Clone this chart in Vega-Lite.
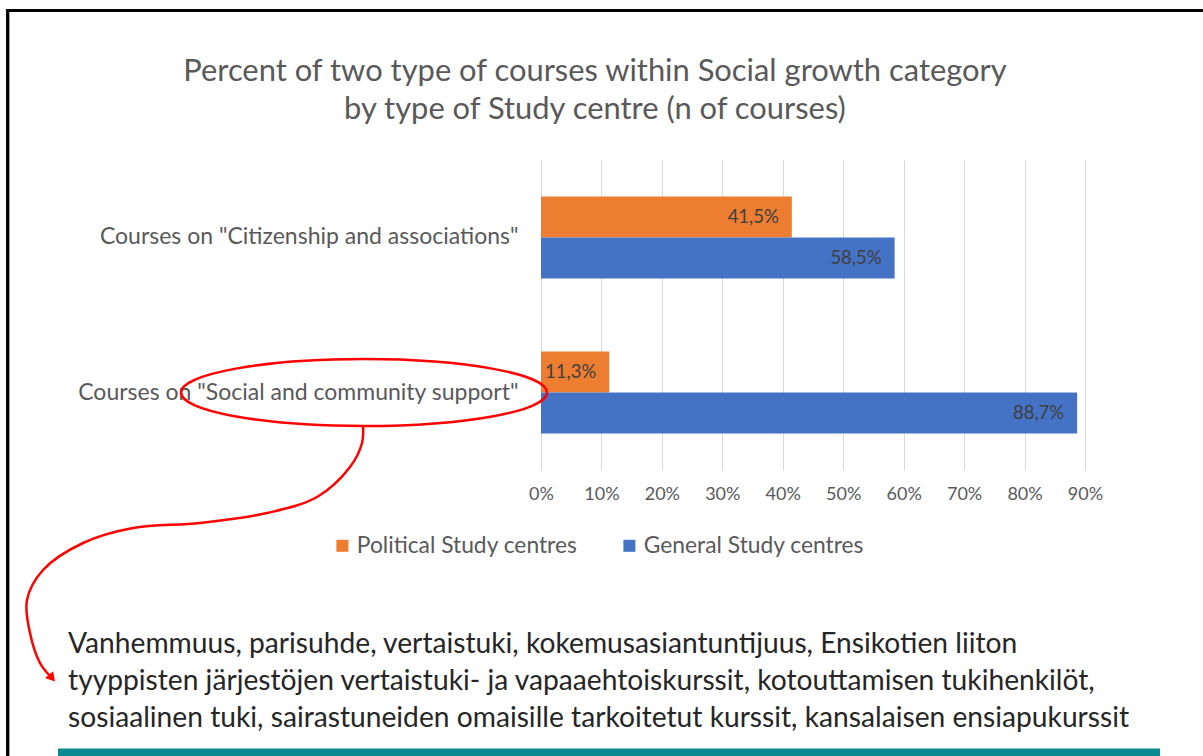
{
  "$schema": "https://vega.github.io/schema/vega-lite/v6.json",
  "width": 544,
  "height": 310,
  "autosize": {"type": "none"},
  "padding": {"left": 541, "top": 160, "right": 118, "bottom": 286},
  "background": "white",
  "config": {
    "view": {"stroke": null},
    "font": "Lato",
    "locale": {"number": {"decimal": ",", "thousands": "\u00a0", "grouping": [3], "currency": ["", " €"]}}
  },
  "datasets": {
    "shares": [
      {"course": "Courses on \"Citizenship and associations\"", "centre": "Political Study centres", "share": 0.415},
      {"course": "Courses on \"Citizenship and associations\"", "centre": "General Study centres", "share": 0.585},
      {"course": "Courses on \"Social and community support\"", "centre": "Political Study centres", "share": 0.113},
      {"course": "Courses on \"Social and community support\"", "centre": "General Study centres", "share": 0.887}
    ],
    "arrow": [
      {"i": 1, "ax": -0.2945, "ay": 45},
      {"i": 2, "ax": -0.2961, "ay": 27},
      {"i": 3, "ax": -0.3160, "ay": 3},
      {"i": 4, "ax": -0.3706, "ay": -27},
      {"i": 5, "ax": -0.4533, "ay": -43},
      {"i": 6, "ax": -0.5642, "ay": -53},
      {"i": 7, "ax": -0.6750, "ay": -58},
      {"i": 8, "ax": -0.7577, "ay": -73},
      {"i": 9, "ax": -0.8239, "ay": -100},
      {"i": 10, "ax": -0.8504, "ay": -130},
      {"i": 11, "ax": -0.8454, "ay": -163},
      {"i": 12, "ax": -0.8289, "ay": -193},
      {"i": 13, "ax": -0.8123, "ay": -206}
    ]
  },
  "layer": [
    {
      "layer": [
        {
          "data": {"name": "shares"},
          "mark": {"type": "bar"},
          "encoding": {
            "x": {
              "field": "share", "type": "quantitative",
              "scale": {"domain": [0, 0.9], "nice": false, "zero": false},
              "axis": {
                "values": [0, 0.1, 0.2, 0.3, 0.4, 0.5, 0.6, 0.7, 0.8, 0.9],
                "format": ".0%", "title": null, "domain": false, "ticks": false,
                "grid": true, "gridColor": "#D9D9D9", "gridWidth": 1,
                "labelColor": "#595959", "labelFontSize": 18, "labelPadding": 15,
                "labelFont": "Lato", "labelFlush": false, "labelOverlap": false
              }
            },
            "y": {
              "field": "course", "type": "nominal",
              "sort": ["Courses on \"Citizenship and associations\"", "Courses on \"Social and community support\""],
              "scale": {"paddingInner": 0.471, "paddingOuter": 0.235},
              "axis": {
                "title": null, "domain": false, "ticks": false, "grid": false,
                "labelColor": "#595959", "labelFontSize": 23, "labelPadding": 23,
                "labelLimit": 700, "labelFont": "Lato"
              }
            },
            "yOffset": {
              "field": "centre", "type": "nominal",
              "sort": ["Political Study centres", "General Study centres"]
            },
            "color": {
              "field": "centre", "type": "nominal",
              "scale": {"domain": ["Political Study centres", "General Study centres"], "range": ["#ED7D31", "#4472C4"]},
              "legend": {
                "title": null, "orient": "none", "direction": "horizontal",
                "legendX": -210, "legendY": 374, "padding": 0,
                "symbolType": "square", "symbolSize": 144, "symbolStrokeWidth": 0,
                "labelFontSize": 22.8, "labelColor": "#595959", "labelFont": "Lato",
                "labelOffset": 3, "columnPadding": 40, "labelLimit": 500
              }
            }
          }
        },
        {
          "data": {"name": "shares"},
          "mark": {"type": "text", "align": "right", "baseline": "middle", "dx": -13, "fontSize": 18.5, "color": "#404040", "font": "Lato"},
          "encoding": {
            "x": {"field": "share", "type": "quantitative", "scale": {"domain": [0, 0.9], "nice": false, "zero": false}},
            "y": {
              "field": "course", "type": "nominal",
              "sort": ["Courses on \"Citizenship and associations\"", "Courses on \"Social and community support\""]
            },
            "yOffset": {
              "field": "centre", "type": "nominal",
              "sort": ["Political Study centres", "General Study centres"]
            },
            "text": {"field": "share", "type": "quantitative", "format": ".1%"}
          }
        },
        {
          "data": {"values": [{"course": "Courses on \"Social and community support\""}]},
          "mark": {
            "type": "point", "filled": false, "stroke": "#FF0000", "strokeWidth": 2.5, "opacity": 1,
            "shape": "M-1,0 C-1,-0.1011 -0.5523,-0.183 0,-0.183 C0.5523,-0.183 1,-0.1011 1,0 C1,0.1011 0.5523,0.183 0,0.183 C-0.5523,0.183 -1,0.1011 -1,0 Z",
            "size": 133956
          },
          "encoding": {
            "x": {"datum": -0.2928, "type": "quantitative", "scale": {"domain": [0, 0.9], "nice": false, "zero": false}},
            "y": {
              "field": "course", "type": "nominal",
              "sort": ["Courses on \"Citizenship and associations\"", "Courses on \"Social and community support\""]
            }
          }
        }
      ]
    },
    {
      "layer": [
        {
          "data": {"name": "arrow"},
          "mark": {"type": "line", "interpolate": "catmull-rom", "stroke": "#FF0000", "strokeWidth": 2.5},
          "encoding": {
            "x": {"field": "ax", "type": "quantitative", "scale": {"domain": [0, 0.9], "nice": false, "zero": false}},
            "y": {"field": "ay", "type": "quantitative", "scale": {"domain": [0, 310], "nice": false, "zero": false}, "axis": null},
            "order": {"field": "i", "type": "quantitative"}
          }
        },
        {
          "data": {"values": [{}]},
          "mark": {"type": "point", "shape": "triangle-up", "filled": true, "fill": "#FF0000", "opacity": 1, "size": 110, "angle": 140},
          "encoding": {
            "x": {"datum": -0.8090, "type": "quantitative", "scale": {"domain": [0, 0.9], "nice": false, "zero": false}},
            "y": {"datum": -208, "type": "quantitative", "scale": {"domain": [0, 310], "nice": false, "zero": false}, "axis": null}
          }
        },
        {
          "data": {"values": [{}]},
          "mark": {"type": "rule", "color": "#000000", "strokeWidth": 3},
          "encoding": {
            "x": {"datum": -0.8851, "type": "quantitative", "scale": {"domain": [0, 0.9], "nice": false, "zero": false}},
            "x2": {"datum": 1.0952},
            "y": {"datum": 459.5, "type": "quantitative", "scale": {"domain": [0, 310], "nice": false, "zero": false}, "axis": null}
          }
        },
        {
          "data": {"values": [{}]},
          "mark": {"type": "rule", "color": "#000000", "strokeWidth": 3.3},
          "encoding": {
            "x": {"datum": -0.8823, "type": "quantitative", "scale": {"domain": [0, 0.9], "nice": false, "zero": false}},
            "y": {"datum": 461, "type": "quantitative", "scale": {"domain": [0, 310], "nice": false, "zero": false}, "axis": null},
            "y2": {"datum": -290}
          }
        },
        {
          "data": {"values": [{}]},
          "mark": {"type": "rect", "color": "#0A8A8E"},
          "encoding": {
            "x": {"datum": -0.7991, "type": "quantitative", "scale": {"domain": [0, 0.9], "nice": false, "zero": false}},
            "x2": {"datum": 1.0241},
            "y": {"datum": -278.5, "type": "quantitative", "scale": {"domain": [0, 310], "nice": false, "zero": false}, "axis": null},
            "y2": {"datum": -290}
          }
        },
        {
          "data": {"values": [{}]},
          "mark": {
            "type": "text", "align": "center", "baseline": "alphabetic", "lineHeight": 38,
            "fontSize": 30.9, "color": "#595959", "font": "Lato",
            "text": ["Percent  of two type of courses within Social growth category", "by type of Study centre (n of courses)"]
          },
          "encoding": {
            "x": {"datum": 0.0893, "type": "quantitative", "scale": {"domain": [0, 0.9], "nice": false, "zero": false}},
            "y": {"datum": 389, "type": "quantitative", "scale": {"domain": [0, 310], "nice": false, "zero": false}, "axis": null}
          }
        },
        {
          "data": {"values": [{}]},
          "mark": {
            "type": "text", "align": "left", "baseline": "alphabetic", "lineHeight": 37,
            "fontSize": 28.2, "color": "#262626", "font": "Lato",
            "text": [
              "Vanhemmuus, parisuhde, vertaistuki, kokemusasiantuntijuus, Ensikotien liiton",
              "tyyppisten järjestöjen vertaistuki- ja vapaaehtoiskurssit, kotouttamisen tukihenkilöt,",
              "sosiaalinen tuki, sairastuneiden omaisille tarkoitetut kurssit, kansalaisen ensiapukurssit"
            ]
          },
          "encoding": {
            "x": {"datum": -0.7825, "type": "quantitative", "scale": {"domain": [0, 0.9], "nice": false, "zero": false}},
            "y": {"datum": -183, "type": "quantitative", "scale": {"domain": [0, 310], "nice": false, "zero": false}, "axis": null}
          }
        }
      ]
    }
  ],
  "resolve": {"scale": {"y": "independent"}}
}
